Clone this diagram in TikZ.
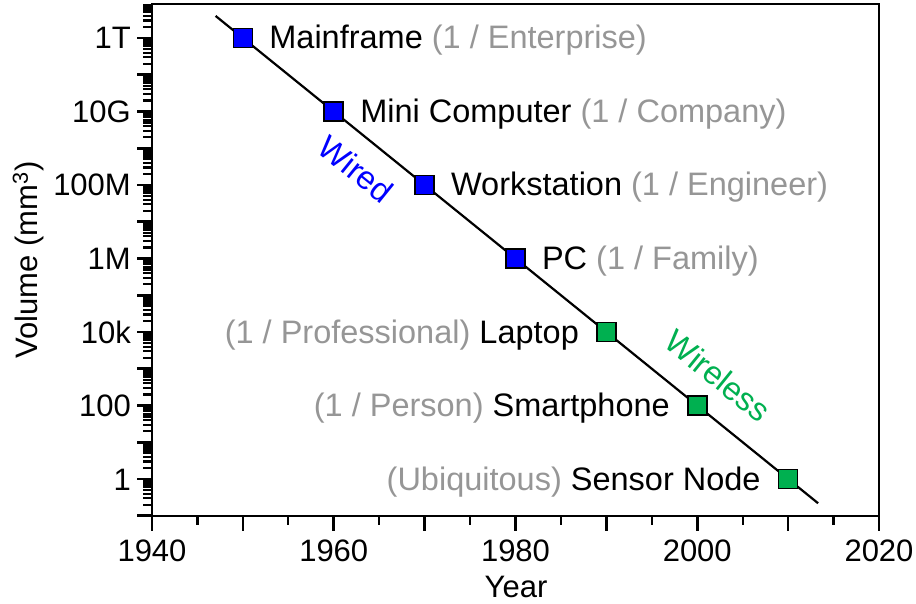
\documentclass[tikz,border=0pt]{standalone}
\usepackage{fontspec}
\setmainfont{Liberation Sans}
\usetikzlibrary{calc,backgrounds}
\definecolor{wiredblue}{RGB}{0,0,255}
\definecolor{wirelessgreen}{RGB}{0,176,80}
\definecolor{notegray}{RGB}{150,150,150}
\begin{document}
\begin{tikzpicture}[x=1pt,y=-1pt,
  declare function={px(\a)=152+(\a-1940)*9.0875; py(\b)=479-36.75*\b;},
  lbl/.style={font=\fontsize{31}{36}\selectfont, inner sep=0pt},
  note/.style={font=\fontsize{32.5}{38}\selectfont, inner sep=0pt},
  marker/.style={rectangle, draw=black, line width=1.6pt, minimum size=19pt, inner sep=0pt},
  majortick/.style={line width=2.6pt},
  minortick/.style={line width=2.2pt},
  frameline/.style={line width=2.8pt},
  trend/.style={line width=2.2pt}]
\useasboundingbox (0,0) rectangle (916,604);

% log-scale ticks on the volume axis
\foreach \d in {-1,...,12}
  \draw[majortick] (152,{py(\d)}) -- (137,{py(\d)});
\foreach \d in {-1,...,11}
  \foreach \k in {2,...,9}
    \draw[minortick] (152,{py(\d+log10(\k))}) -- (143,{py(\d+log10(\k))});
\foreach \k in {2,...,8}
  \draw[minortick] (152,{py(12+log10(\k))}) -- (143,{py(12+log10(\k))});

% year axis ticks
\foreach \yr in {1940,1950,...,2020}
  \draw[majortick] ({px(\yr)},516) -- ({px(\yr)},531);
\foreach \yr in {1945,1955,...,2015}
  \draw[minortick] ({px(\yr)},516) -- ({px(\yr)},525);

% plot frame
\draw[frameline] (152,4) rectangle (879,516);

% tick labels
\foreach \yr in {1940,1960,...,2020}
  \node[lbl, anchor=base] (xt\yr) at ({px(\yr)},561) {\yr};
\foreach \lv/\txt in {0/1,2/100,4/10k,6/1M,8/100M,10/10G,12/1T}
  \node[lbl, anchor=base east] (yt\lv) at (131,{py(\lv)+11}) {\txt};

% axis titles
\node[lbl, anchor=base] (xlabel) at (516,597) {Year};
\node[lbl, rotate=90, anchor=base] (ylabel) at (37,260) {Volume (mm\textsuperscript{3})};

% computer classes
\node[marker, fill=wiredblue] (mainframe) at ({px(1950)},{py(12)}) {};
\node[marker, fill=wiredblue] (mini) at ({px(1960)},{py(10)}) {};
\node[marker, fill=wiredblue] (workstation) at ({px(1970)},{py(8)}) {};
\node[marker, fill=wiredblue] (pc) at ({px(1980)},{py(6)}) {};
\node[marker, fill=wirelessgreen] (laptop) at ({px(1990)},{py(4)}) {};
\node[marker, fill=wirelessgreen] (smartphone) at ({px(2000)},{py(2)}) {};
\node[marker, fill=wirelessgreen] (sensor) at ({px(2010)},{py(0)}) {};

% trend line behind the markers
\coordinate (lstart) at ({px(1947)},{py(12.6)});
\coordinate (lend) at ({px(2013.3)},{py(-0.66)});
\begin{pgfonlayer}{background}
\draw[trend] (lstart) -- (mainframe.center) -- (mini.center) -- (workstation.center)
  -- (pc.center) -- (laptop.center) -- (smartphone.center) -- (sensor.center) -- (lend);
\end{pgfonlayer}

% class labels
\node[note, anchor=base west] (t-mainframe) at ($(mainframe.east)+(16,11)$)
  {Mainframe \textcolor{notegray}{(1 / Enterprise)}};
\node[note, anchor=base west] (t-mini) at ($(mini.east)+(16,11)$)
  {Mini Computer \textcolor{notegray}{(1 / Company)}};
\node[note, anchor=base west] (t-workstation) at ($(workstation.east)+(16,11)$)
  {Workstation \textcolor{notegray}{(1 / Engineer)}};
\node[note, anchor=base west] (t-pc) at ($(pc.east)+(16,11)$)
  {PC \textcolor{notegray}{(1 / Family)}};
\node[note, anchor=base east] (t-laptop) at ($(laptop.west)+(-17,11)$)
  {\textcolor{notegray}{(1 / Professional)} Laptop};
\node[note, anchor=base east] (t-smartphone) at ($(smartphone.west)+(-17,11)$)
  {\textcolor{notegray}{(1 / Person)} Smartphone};
\node[note, anchor=base east] (t-sensor) at ($(sensor.west)+(-17,11)$)
  {\textcolor{notegray}{(Ubiquitous)} Sensor Node};

% era labels
\node[note, text=wiredblue, rotate=-39] (wired) at (356,169) {Wired};
\node[note, text=wirelessgreen, rotate=-39] (wireless) at (718,376) {Wireless};
\end{tikzpicture}
\end{document}
